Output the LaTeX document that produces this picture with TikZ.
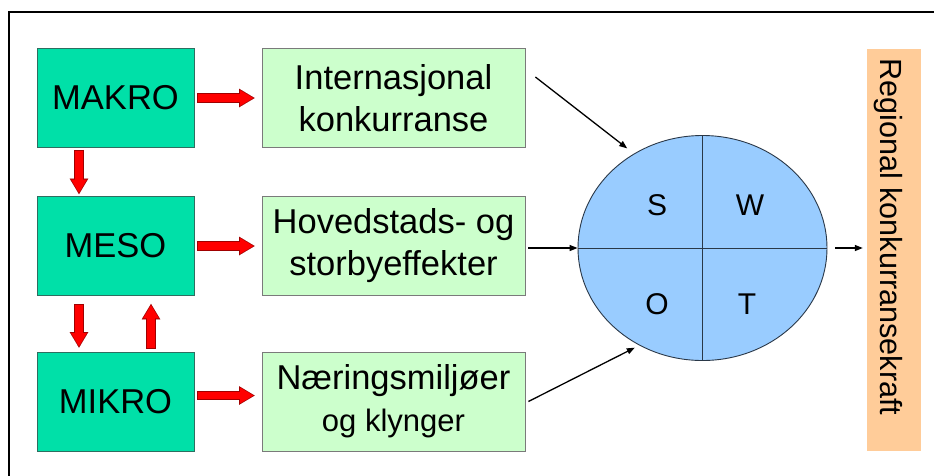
\documentclass[tikz,border=0pt]{standalone}
\usepackage{fontspec}
\setmainfont{Liberation Sans}
\usetikzlibrary{arrows.meta,shapes.geometric}
\definecolor{dkgreen}{HTML}{00E0A8}
\definecolor{dkedge}{HTML}{2E6E60}
\definecolor{ltgreen}{HTML}{CCFFCC}
\definecolor{ltedge}{HTML}{7A7A7A}
\definecolor{swotblue}{HTML}{99CCFF}
\definecolor{swotedge}{HTML}{2A3848}
\definecolor{orangebox}{HTML}{FFCC99}
\definecolor{arrdark}{HTML}{A00000}
\newcommand\blockarrow[2]{%
  \draw[outerarrow] #1 -- #2;
  \draw[innerarrow] #1 -- #2;}
\begin{document}
\begin{tikzpicture}[x=1pt,y=-1pt,
  level/.style={draw=dkedge, fill=dkgreen, line width=0.8pt, minimum width=157pt,
    minimum height=99pt, inner sep=0pt, font=\fontsize{34.5}{40}\selectfont},
  factor/.style={draw=ltedge, fill=ltgreen, line width=0.8pt, minimum width=263pt,
    minimum height=99pt, inner sep=0pt, align=center, font=\fontsize{34.5}{42}\selectfont},
  swotletter/.style={anchor=base, inner sep=0pt, font=\fontsize{30}{36}\selectfont},
  outerarrow/.style={line width=9.6pt, draw=arrdark,
    -{Triangle[width=18.5pt,length=15.5pt,line width=0.01pt]}},
  innerarrow/.style={line width=7.4pt, draw=red, shorten <=1pt, shorten >=1.4pt,
    -{Triangle[width=15.5pt,length=13pt,line width=0.01pt]}},
  thinarrow/.style={line width=1.3pt, draw=black, -{Triangle[length=8pt,width=6pt]}}
]
\useasboundingbox (0,0) rectangle (934,475);
\fill[white] (0,0) rectangle (934,475);
% frame
\draw[line width=2.5pt] (9,480) -- (9,12) -- (940,12);

% level boxes
\node[level] (makro) at (115.5,98) {MAKRO};
\node[level] (meso) at (115.5,246) {MESO};
\node[level] (mikro) at (115.5,401.5) {MIKRO};

% factor boxes
\node[factor] (intl) at (393.5,98) {Internasjonal\\konkurranse};
\node[factor] (hoved) at (393.5,246) {Hovedstads- og\\storbyeffekter};
\node[factor] (naering) at (393.5,401.5) {Næringsmiljøer\\{\fontsize{31}{40}\selectfont og klynger}};

% SWOT ellipse
\node[ellipse, draw=swotedge, fill=swotblue, line width=0.9pt, minimum width=249pt,
  minimum height=225pt, inner sep=0pt] (swot) at (702.5,248) {};
\draw[swotedge, line width=0.9pt] (swot.north) -- (swot.south);
\draw[swotedge, line width=0.9pt] (swot.west) -- (swot.east);
\node[swotletter] (s) at (657,215) {S};
\node[swotletter] (w) at (750,215) {W};
\node[swotletter] (o) at (657,314) {O};
\node[swotletter] (t) at (747,314) {T};

% result box
\node[fill=orangebox, minimum width=54pt, minimum height=402pt, inner sep=0pt] (rk) at (894,250) {};
\node[rotate=-90, anchor=base west, inner sep=0pt, font=\fontsize{30.6}{36}\selectfont]
  (rktext) at (880,58) {Regional konkurransekraft};

% red block arrows
\blockarrow{([xshift=3pt]makro.east)}{([xshift=-7pt]intl.west)}
\blockarrow{([xshift=3pt]meso.east)}{([xshift=-7pt]hoved.west)}
\blockarrow{([xshift=3pt,yshift=6pt]mikro.east)}{([xshift=-7pt,yshift=6pt]naering.west)}
\blockarrow{([xshift=-36.5pt,yshift=-2pt]makro.south)}{([xshift=-36.5pt,yshift=2pt]meso.north)}
\blockarrow{([xshift=-36.5pt,yshift=-8pt]meso.south)}{([xshift=-36.5pt,yshift=4pt]mikro.north)}
\blockarrow{([xshift=35.5pt,yshift=3pt]mikro.north)}{([xshift=35.5pt,yshift=-8pt]meso.south)}

% thin black arrows
\coordinate (t1) at ([shift={(10pt,21pt)}]intl.east);
\coordinate (t3) at ([xshift=3pt]naering.east);
\draw[thinarrow, shorten >=8.5pt] (t1) -- (swot.126);
\draw[thinarrow, shorten <=3pt] (hoved.east |- swot.west) -- (swot.west);
\draw[thinarrow, shorten >=5pt] (t3) -- (swot.237);
\draw[thinarrow, shorten <=8pt, shorten >=4pt] (swot.east) -- (rk.west |- swot.east);
\end{tikzpicture}
\end{document}
